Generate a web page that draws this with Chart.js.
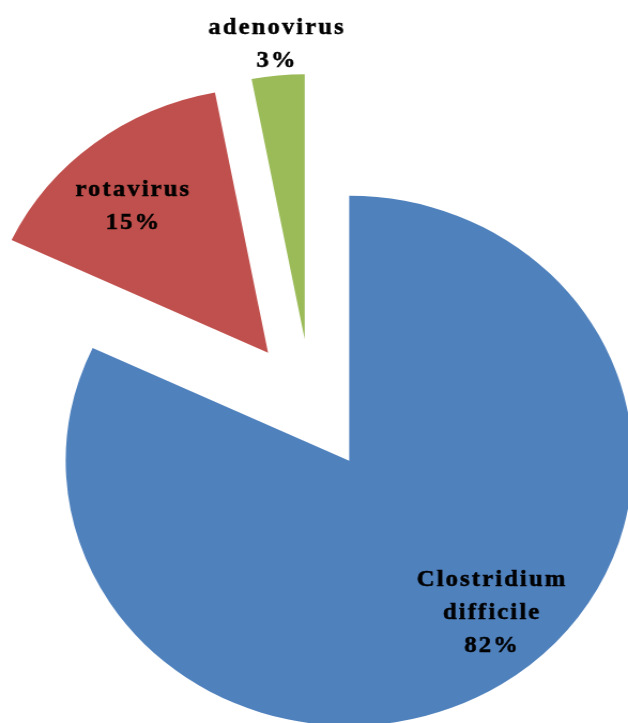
<!DOCTYPE html>
<html>
<head>
<meta charset="utf-8">
<script src="https://cdn.jsdelivr.net/npm/chart.js@4.4.1/dist/chart.umd.min.js"></script>
<style>
  html, body { margin: 0; padding: 0; background: #fff; overflow: hidden; }
</style>
</head>
<body>
<!-- the original pie is a little wider than tall, so the canvas is stretched -->
<canvas id="pie" width="587" height="723" style="display:block;width:628px;height:723px"></canvas>
<script>
let pathogens = ["Clostridium difficile", "rotavirus", "adenovirus"];
let shares = [82, 15, 3];
let sliceColors = ["#4F81BD", "#C0504D", "#9BBB59"];

// how far every slice is pulled out of the pie (px)
let explode = 66;
// label spot per slice: [degrees off the mid angle, fraction of radius]
let labelPlace = [[-8.6, 0.763], [-3.2, 0.73], [0.2, 1.115]];

// draw the arcs ourselves, each one moved out along its mid angle
const explodeSlices = {
  id: "explodeSlices",
  beforeDatasetDraw(chart, args) {
    let ctx = chart.ctx;
    args.meta.data.forEach((arc) => {
      let mid = (arc.startAngle + arc.endAngle) / 2;
      ctx.save();
      ctx.translate(Math.cos(mid) * explode, Math.sin(mid) * explode);
      arc.draw(ctx);
      ctx.restore();
    });
    return false;
  },
};

const sliceLabels = {
  id: "sliceLabels",
  afterDatasetsDraw(chart) {
    let ctx = chart.ctx;
    let meta = chart.getDatasetMeta(0);
    ctx.save();
    ctx.font = "bold 23px 'Liberation Serif', 'Times New Roman', serif";
    ctx.fillStyle = "#000";
    ctx.strokeStyle = "#000";
    ctx.lineWidth = 0.5;
    ctx.textAlign = "center";
    ctx.textBaseline = "middle";
    if ("letterSpacing" in ctx) ctx.letterSpacing = "2px";
    meta.data.forEach((arc, i) => {
      let mid = (arc.startAngle + arc.endAngle) / 2;
      let ox = arc.x + Math.cos(mid) * explode;
      let oy = arc.y + Math.sin(mid) * explode;
      let a = mid + (labelPlace[i][0] * Math.PI) / 180;
      let r = arc.outerRadius * labelPlace[i][1];
      let cx = ox + Math.cos(a) * r + 1;
      let cy = oy + Math.sin(a) * r;
      let lines = pathogens[i].split(" ").concat(shares[i] + "%");
      lines.forEach((t, j) => {
        let y = cy + (j - (lines.length - 1) / 2) * 33;
        ctx.fillText(t, cx, y);
        ctx.strokeText(t, cx, y);
      });
    });
    ctx.restore();
  },
};

const pieCtx = document.getElementById("pie").getContext("2d");
const pieChart = new Chart(pieCtx, {
  type: "pie",
  data: {
    labels: pathogens,
    datasets: [
      {
        data: shares,
        backgroundColor: sliceColors,
        borderWidth: 0,
        hoverOffset: 0,
      },
    ],
  },
  options: {
    responsive: false,
    animation: false,
    events: [],
    radius: 265,
    layout: {
      padding: { left: 0, right: 5, top: 87, bottom: 0 },
    },
    plugins: {
      legend: { display: false },
      tooltip: { enabled: false },
    },
  },
  plugins: [explodeSlices, sliceLabels],
});
</script>
</body>
</html>
